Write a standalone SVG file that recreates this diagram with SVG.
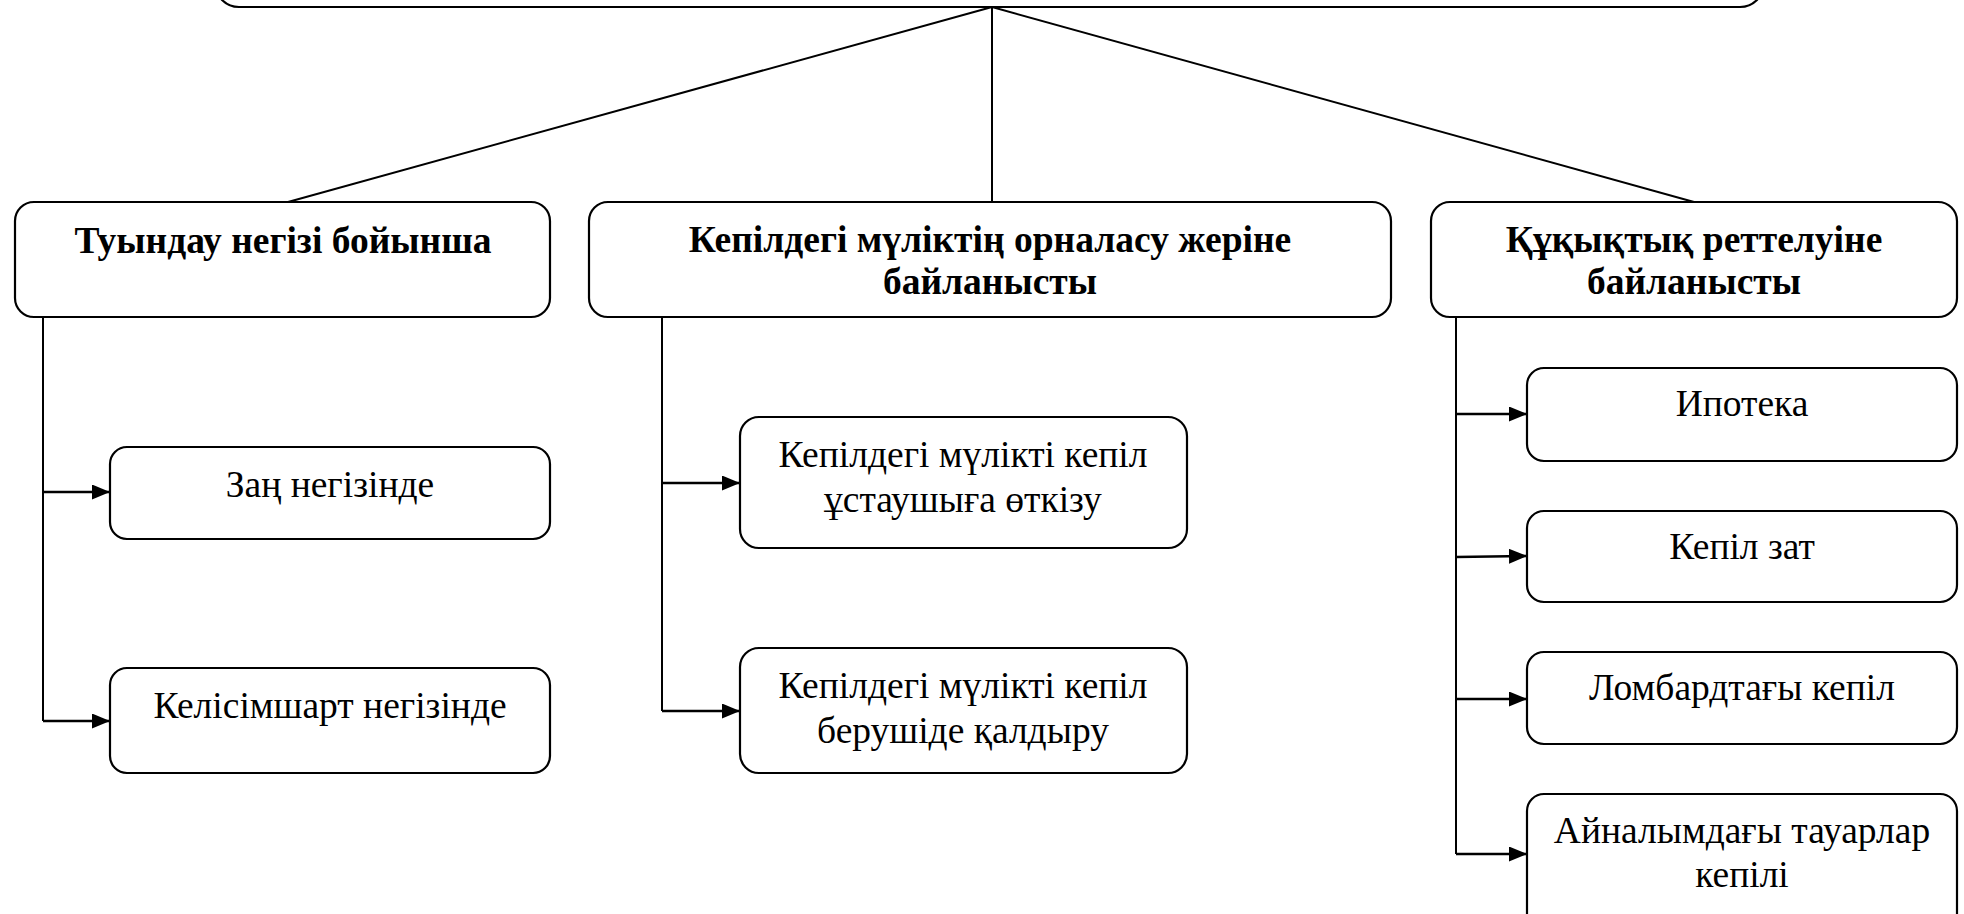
<svg xmlns="http://www.w3.org/2000/svg" width="1964" height="914" viewBox="0 0 1964 914">
<defs>
<style>
.box{fill:#fff;stroke:#000;stroke-width:2.2}
.ln{fill:none;stroke:#000;stroke-width:2}
.ar{fill:none;stroke:#000;stroke-width:2.6}
.t{font-family:"Liberation Serif","Times New Roman",serif;font-size:37.5px;fill:#000;text-anchor:middle}
.b{font-weight:bold}
</style>
<marker id="ah" viewBox="0 0 18 15" refX="18" refY="7.5" markerWidth="18" markerHeight="15" markerUnits="userSpaceOnUse" orient="auto">
<path d="M0,0 L18,7.5 L0,15 Z" fill="#000"/>
</marker>
</defs>
<rect width="1964" height="914" fill="#fff"/>
<g id="connectors">
<line class="ln" x1="992" y1="7" x2="288" y2="202"/>
<line class="ln" x1="992" y1="7" x2="992" y2="202"/>
<line class="ln" x1="992" y1="7" x2="1694" y2="202"/>
<polyline class="ln" points="43,317 43,721"/>
<line class="ar" x1="43" y1="492" x2="110" y2="492" marker-end="url(#ah)"/>
<line class="ar" x1="43" y1="721" x2="110" y2="721" marker-end="url(#ah)"/>
<polyline class="ln" points="662,317 662,711"/>
<line class="ar" x1="662" y1="483" x2="740" y2="483" marker-end="url(#ah)"/>
<line class="ar" x1="662" y1="711" x2="740" y2="711" marker-end="url(#ah)"/>
<polyline class="ln" points="1456,317 1456,854"/>
<line class="ar" x1="1456" y1="414" x2="1527" y2="414" marker-end="url(#ah)"/>
<line class="ar" x1="1456" y1="557" x2="1527" y2="556" marker-end="url(#ah)"/>
<line class="ar" x1="1456" y1="699" x2="1527" y2="699" marker-end="url(#ah)"/>
<line class="ar" x1="1456" y1="854" x2="1527" y2="854" marker-end="url(#ah)"/>
</g>
<g id="root"><rect class="box" x="215" y="-60" width="1549" height="67" rx="24"/></g>
<g id="n1"><rect class="box" x="15" y="202" width="535" height="115" rx="19"/>
<text class="t b" x="283" y="253">Туындау негізі бойынша</text></g>
<g id="n2"><rect class="box" x="589" y="202" width="802" height="115" rx="19"/>
<text class="t b" x="990" y="252">Кепілдегі мүліктің орналасу жеріне</text>
<text class="t b" x="990" y="294">байланысты</text></g>
<g id="n3"><rect class="box" x="1431" y="202" width="526" height="115" rx="19"/>
<text class="t b" x="1694" y="252">Құқықтық реттелуіне</text>
<text class="t b" x="1694" y="294">байланысты</text></g>
<g id="n1a"><rect class="box" x="110" y="447" width="440" height="92" rx="17"/>
<text class="t" x="330" y="497">Заң негізінде</text></g>
<g id="n1b"><rect class="box" x="110" y="668" width="440" height="105" rx="17"/>
<text class="t" x="330" y="718">Келісімшарт негізінде</text></g>
<g id="n2a"><rect class="box" x="740" y="417" width="447" height="131" rx="19"/>
<text class="t" x="963" y="467">Кепілдегі мүлікті кепіл</text>
<text class="t" x="963" y="512">ұстаушыға өткізу</text></g>
<g id="n2b"><rect class="box" x="740" y="648" width="447" height="125" rx="19"/>
<text class="t" x="963" y="698">Кепілдегі мүлікті кепіл</text>
<text class="t" x="963" y="743">берушіде қалдыру</text></g>
<g id="n3a"><rect class="box" x="1527" y="368" width="430" height="93" rx="17"/>
<text class="t" x="1742" y="416">Ипотека</text></g>
<g id="n3b"><rect class="box" x="1527" y="511" width="430" height="91" rx="17"/>
<text class="t" x="1742" y="559">Кепіл зат</text></g>
<g id="n3c"><rect class="box" x="1527" y="652" width="430" height="92" rx="17"/>
<text class="t" x="1742" y="700">Ломбардтағы кепіл</text></g>
<g id="n3d"><rect class="box" x="1527" y="794" width="430" height="140" rx="17"/>
<text class="t" x="1742" y="843">Айналымдағы тауарлар</text>
<text class="t" x="1742" y="887">кепілі</text></g>
</svg>
